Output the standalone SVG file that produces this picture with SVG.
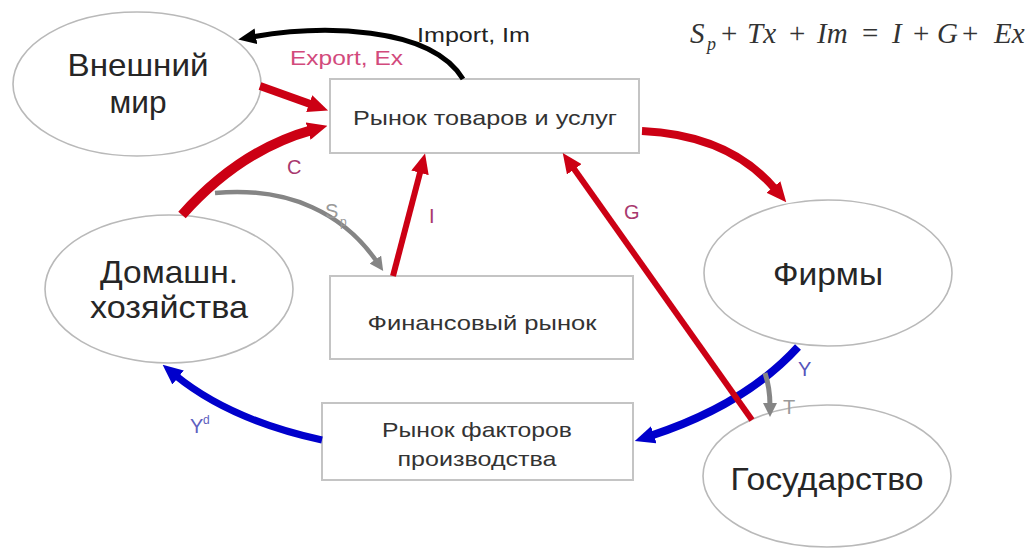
<svg xmlns="http://www.w3.org/2000/svg" width="1034" height="550" viewBox="0 0 1034 550">
<style>
.ell{fill:#fff;stroke:#b9b9b9;stroke-width:1.6}
.box{fill:#fff;stroke:#c4c4c4;stroke-width:2}
.big{font-family:"Liberation Sans",Arial,sans-serif;font-size:32px;fill:#262626;text-anchor:middle}
.mid{font-family:"Liberation Sans",Arial,sans-serif;font-size:21px;fill:#333;text-anchor:middle}
.lbl{font-family:"Liberation Sans",Arial,sans-serif;font-size:20px}
.red{fill:none;stroke:#cc0014}
.blue{fill:none;stroke:#0000cc}
.gray{fill:none;stroke:#858585}
.blk{fill:none;stroke:#000}
.mag{fill:#a8386e}
.math{font-family:"Liberation Serif","Times New Roman",serif;font-size:29px;fill:#333}
.mi{font-style:italic}
</style>
<defs>
<marker id="mr" viewBox="0 0 20 18" refX="4" refY="9" markerWidth="20" markerHeight="18" markerUnits="userSpaceOnUse" orient="auto"><path d="M0,0 L20,9 L0,18 z" fill="#cc0014"/></marker>
<marker id="mb" viewBox="0 0 20 18" refX="4" refY="9" markerWidth="20" markerHeight="18" markerUnits="userSpaceOnUse" orient="auto"><path d="M0,0 L20,9 L0,18 z" fill="#0000cc"/></marker>
<marker id="mg" viewBox="0 0 14 14" refX="3" refY="7" markerWidth="14" markerHeight="14" markerUnits="userSpaceOnUse" orient="auto"><path d="M0,0 L14,7 L0,14 z" fill="#858585"/></marker>
<marker id="mk" viewBox="0 0 18 16" refX="4" refY="8" markerWidth="18" markerHeight="16" markerUnits="userSpaceOnUse" orient="auto"><path d="M0,0 L18,8 L0,16 z" fill="#000"/></marker>
</defs>
<rect width="1034" height="550" fill="#fff"/>

<g id="vneshniy-mir">
<ellipse class="ell" cx="137" cy="84" rx="124" ry="72"/>
<text class="big" x="138" y="76" textLength="141" lengthAdjust="spacingAndGlyphs">Внешний</text>
<text class="big" x="138" y="113" textLength="57" lengthAdjust="spacingAndGlyphs">мир</text>
</g>
<g id="rynok-tovarov">
<rect class="box" x="330" y="79" width="309" height="74"/>
<text class="mid" x="485" y="125" textLength="264" lengthAdjust="spacingAndGlyphs">Рынок товаров и услуг</text>
</g>
<g id="domashn">
<ellipse class="ell" cx="169" cy="289" rx="124" ry="74"/>
<text class="big" x="169" y="283" textLength="138" lengthAdjust="spacingAndGlyphs">Домашн.</text>
<text class="big" x="169" y="318" textLength="158" lengthAdjust="spacingAndGlyphs">хозяйства</text>
</g>
<g id="finansoviy-rynok">
<rect class="box" x="330" y="276" width="303" height="83"/>
<text class="mid" x="482" y="330" textLength="229" lengthAdjust="spacingAndGlyphs">Финансовый рынок</text>
</g>
<g id="rynok-faktorov">
<rect class="box" x="322" y="403" width="311" height="77"/>
<text class="mid" x="477" y="437" textLength="190" lengthAdjust="spacingAndGlyphs">Рынок факторов</text>
<text class="mid" x="477" y="466" textLength="159" lengthAdjust="spacingAndGlyphs">производства</text>
</g>
<g id="firmy">
<ellipse class="ell" cx="828" cy="273" rx="124" ry="73"/>
<text class="big" x="828" y="285" textLength="110" lengthAdjust="spacingAndGlyphs">Фирмы</text>
</g>
<g id="gosudarstvo">
<ellipse class="ell" cx="827" cy="476" rx="124" ry="71"/>
<text class="big" x="827" y="490" textLength="193" lengthAdjust="spacingAndGlyphs">Государство</text>
</g>

<g id="connectors">
<path class="blk" stroke-width="5" d="M463 79 C430 25 320 25 252 37" marker-end="url(#mk)"/>
<path class="red" stroke-width="8" d="M260 86 L313 105" marker-end="url(#mr)"/>
<path class="red" stroke-width="10" d="M182 215 Q240 150 312 130" marker-end="url(#mr)"/>
<path class="gray" stroke-width="4.5" d="M215 193 C290 186 345 215 377 262" marker-end="url(#mg)"/>
<path class="red" stroke-width="6" d="M393 276 L421 169" marker-end="url(#mr)"/>
<path class="red" stroke-width="8" d="M642 131 Q730 135 776 190" marker-end="url(#mr)"/>
<path class="blue" stroke-width="8" d="M798 347 Q745 405 650 436" marker-end="url(#mb)"/>
<path class="red" stroke-width="6" d="M752 420 L572 166" marker-end="url(#mr)"/>
<path class="gray" stroke-width="5" d="M765 373 Q770 388 770 406" marker-end="url(#mg)"/>
<path class="blue" stroke-width="7" d="M322 440 Q230 420 175 375" marker-end="url(#mb)"/>
</g>

<g id="labels">
<text class="lbl" x="417" y="42" fill="#222" textLength="113" lengthAdjust="spacingAndGlyphs">Import, Im</text>
<text class="lbl" x="290" y="65" fill="#d24a7c" textLength="113" lengthAdjust="spacingAndGlyphs">Export, Ex</text>
<text class="lbl mag" x="287" y="174">C</text>
<text class="lbl mag" x="429" y="223">I</text>
<text class="lbl mag" x="624" y="219">G</text>
<text class="lbl" x="325" y="218" fill="#9a9a9a">S</text>
<text class="lbl" x="340" y="226" fill="#9a9a9a" style="font-size:12px">p</text>
<text class="lbl" x="798" y="376" fill="#5555bb">Y</text>
<text class="lbl" x="783" y="414" fill="#9a9a9a">T</text>
<text class="lbl" x="190" y="433" fill="#6060c0">Y</text>
<text class="lbl" x="203" y="424" fill="#6060c0" style="font-size:12px">d</text>
</g>

<g id="formula">
<text class="math mi" x="690" y="43">S</text>
<text class="math mi" x="707" y="50" style="font-size:18px">p</text>
<text class="math" x="721" y="43">+</text>
<text class="math mi" x="747" y="43">Tx</text>
<text class="math" x="789" y="43">+</text>
<text class="math mi" x="817" y="43">Im</text>
<text class="math" x="862" y="43">=</text>
<text class="math mi" x="892" y="43">I</text>
<text class="math" x="913" y="43">+</text>
<text class="math mi" x="937" y="43">G</text>
<text class="math" x="962" y="43">+</text>
<text class="math mi" x="994" y="43">Ex</text>
</g>
</svg>
